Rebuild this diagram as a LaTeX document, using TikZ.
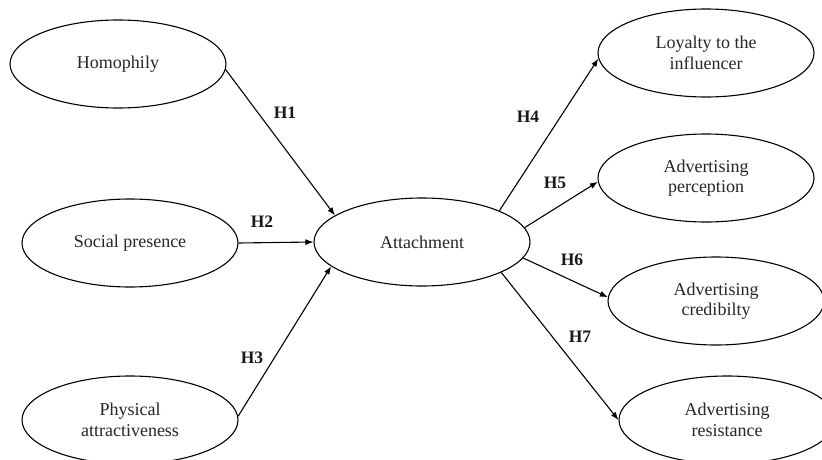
\documentclass[tikz,border=0pt]{standalone}
\usepackage{fontspec}
\setmainfont{Liberation Serif}
\usetikzlibrary{shapes.geometric,arrows.meta}
\begin{document}
\begin{tikzpicture}[x=1pt,y=-1pt,
  construct/.style={draw, line width=1.1pt, ellipse, minimum width=216pt, minimum height=88pt,
    inner sep=0pt, align=center, font=\fontsize{18}{20.5}\selectfont, text=black!85},
  hyp/.style={font=\fontsize{17.5}{20}\selectfont\bfseries, text=black!90},
  path/.style={line width=1.1pt, -{Latex[length=8pt,width=6pt]}}]
\useasboundingbox (0,0) rectangle (822,460);
\clip (0,0) rectangle (822,460);
\fill[white] (0,0) rectangle (822,460);
% left constructs
\node[construct] (homo) at (118,64) {Homophily};
\node[construct] (soc) at (130,243) {Social presence};
\node[construct] (phys) at (130,420) {Physical\\attractiveness};
% centre
\node[construct] (att) at (422,242) {Attachment};
% right constructs
\node[construct] (loy) at (706,53) {Loyalty to the\\influencer};
\node[construct] (perc) at (706,178) {Advertising\\perception};
\node[construct] (cred) at (716,301) {Advertising\\credibilty};
\node[construct] (res) at (727,420) {Advertising\\resistance};
% connectors
\draw[path] (homo.-3) -- (att.163);
\draw[path] (soc.east) -- (att.west);
\draw[path] (phys.2) -- (att.195);
\draw[path] (att.22) -- (loy.183);
\draw[path] (att.8) -- (perc.182);
\draw[path] (att.-9) -- (cred.178);
\draw[path] (att.-21) -- (res.180);
% hypothesis labels
\node[hyp] (h1) at (285,113) {H1};
\node[hyp] (h2) at (262,222) {H2};
\node[hyp] (h3) at (252,358) {H3};
\node[hyp] (h4) at (528,117) {H4};
\node[hyp] (h5) at (555,183) {H5};
\node[hyp] (h6) at (572,260) {H6};
\node[hyp] (h7) at (580,337) {H7};
\end{tikzpicture}
\end{document}
